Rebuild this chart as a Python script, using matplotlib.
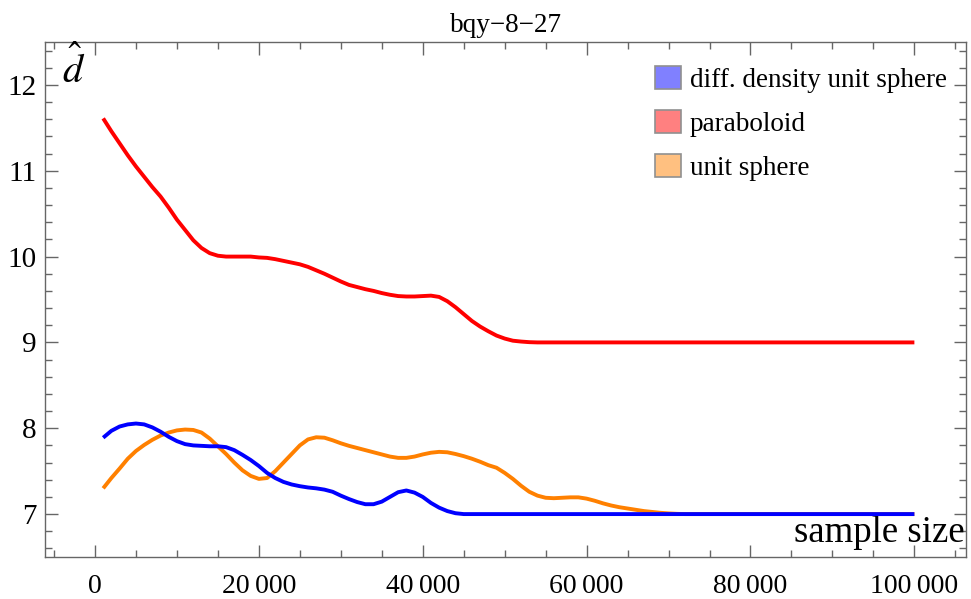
import matplotlib
matplotlib.use("Agg")
import matplotlib.pyplot as plt
from matplotlib.ticker import MultipleLocator, FuncFormatter
from matplotlib.patches import Patch

sample_size = [1000, 2000, 3000, 4000, 5000, 6000, 7000, 8000, 9000, 10000,
               11000, 12000, 13000, 14000, 15000, 16000, 17000, 18000, 19000, 20000,
               21000, 22000, 23000, 24000, 25000, 26000, 27000, 28000, 29000, 30000,
               31000, 32000, 33000, 34000, 35000, 36000, 37000, 38000, 39000, 40000,
               41000, 42000, 43000, 44000, 45000, 46000, 47000, 48000, 49000, 50000,
               51000, 52000, 53000, 54000, 55000, 56000, 57000, 58000, 59000, 60000,
               61000, 62000, 63000, 64000, 65000, 66000, 67000, 68000, 69000, 70000,
               71000, 72000, 75000, 80000, 85000, 90000, 95000, 100000]

paraboloid = [11.61, 11.46, 11.32, 11.18, 11.05, 10.93, 10.81, 10.70, 10.57, 10.43,
              10.31, 10.19, 10.10, 10.04, 10.01, 10.00, 10.00, 10.00, 10.00, 9.99,
              9.985, 9.97, 9.95, 9.93, 9.91, 9.88, 9.84, 9.80, 9.755, 9.71,
              9.67, 9.645, 9.62, 9.60, 9.575, 9.555, 9.54, 9.535, 9.535, 9.54,
              9.545, 9.53, 9.48, 9.41, 9.33, 9.25, 9.185, 9.13, 9.08, 9.045,
              9.02, 9.01, 9.003, 9.0, 9.0, 9.0, 9.0, 9.0, 9.0, 9.0,
              9.0, 9.0, 9.0, 9.0, 9.0, 9.0, 9.0, 9.0, 9.0, 9.0,
              9.0, 9.0, 9.0, 9.0, 9.0, 9.0, 9.0, 9.0]

diff_density = [7.89, 7.97, 8.02, 8.045, 8.055, 8.045, 8.01, 7.96, 7.90, 7.85,
                7.815, 7.80, 7.795, 7.79, 7.79, 7.78, 7.745, 7.69, 7.63, 7.56,
                7.48, 7.42, 7.375, 7.345, 7.325, 7.31, 7.30, 7.285, 7.26, 7.215,
                7.175, 7.14, 7.115, 7.115, 7.145, 7.20, 7.255, 7.275, 7.25, 7.20,
                7.13, 7.075, 7.035, 7.01, 7.0, 7.0, 7.0, 7.0, 7.0, 7.0,
                7.0, 7.0, 7.0, 7.0, 7.0, 7.0, 7.0, 7.0, 7.0, 7.0,
                7.0, 7.0, 7.0, 7.0, 7.0, 7.0, 7.0, 7.0, 7.0, 7.0,
                7.0, 7.0, 7.0, 7.0, 7.0, 7.0, 7.0, 7.0]

unit_sphere = [7.30, 7.42, 7.53, 7.645, 7.735, 7.805, 7.865, 7.915, 7.95, 7.975,
               7.985, 7.98, 7.95, 7.88, 7.79, 7.70, 7.60, 7.51, 7.445, 7.41,
               7.42, 7.50, 7.60, 7.70, 7.80, 7.87, 7.895, 7.89, 7.86, 7.825,
               7.795, 7.77, 7.745, 7.72, 7.695, 7.67, 7.655, 7.655, 7.67, 7.695,
               7.715, 7.725, 7.72, 7.70, 7.675, 7.645, 7.61, 7.57, 7.54, 7.48,
               7.41, 7.33, 7.26, 7.215, 7.19, 7.185, 7.19, 7.195, 7.195, 7.18,
               7.155, 7.125, 7.10, 7.08, 7.065, 7.05, 7.035, 7.025, 7.015, 7.008,
               7.003, 7.0, 7.0, 7.0, 7.0, 7.0, 7.0, 7.0]

legend_labels = ["diff. density unit sphere", "paraboloid", "unit sphere"]
line_colors = ["#0000FF", "#FF0000", "#FF8000"]
swatch_colors = ["#8080FF", "#FF8080", "#FFC080"]

plt.rcParams['font.family'] = ['Liberation Serif', 'DejaVu Serif']
plt.rcParams['mathtext.fontset'] = 'stix'

fig = plt.figure(figsize=(9.71, 5.99), dpi=100)
ax = fig.add_axes([45/971, 1 - 557/599, (966 - 45)/971, (557 - 42)/599])

kw = dict(lw=2.8, solid_joinstyle='round', solid_capstyle='butt')
ax.plot(sample_size, unit_sphere, color=line_colors[2], zorder=2, **kw)
ax.plot(sample_size, paraboloid, color=line_colors[1], zorder=3, **kw)
ax.plot(sample_size, diff_density, color=line_colors[0], zorder=4, **kw)

ax.set_xlim(-6100, 106300)
ax.set_ylim(6.5, 12.5)

ax.xaxis.set_major_locator(MultipleLocator(20000))
ax.xaxis.set_minor_locator(MultipleLocator(5000))
ax.yaxis.set_major_locator(MultipleLocator(1))
ax.yaxis.set_minor_locator(MultipleLocator(0.2))

def fmt(v, pos):
    s = f"{int(round(v)):,}"
    return s.replace(",", "\u2009")
ax.xaxis.set_major_formatter(FuncFormatter(fmt))

spine_col = "#666666"
for s in ax.spines.values():
    s.set_color(spine_col)
    s.set_linewidth(1.0)
ax.tick_params(which='both', direction='in', top=True, right=True, color=spine_col, width=1.0)
ax.tick_params(which='major', length=9)
ax.tick_params(which='minor', length=5)
ax.tick_params(axis='x', labelsize=20, pad=12)
ax.tick_params(axis='y', labelsize=21, pad=6)

ax.set_title("bqy\u22128\u221227", fontsize=19.5, pad=7)

ax.text(0.018, 0.99, r"$\hat{d}$", transform=ax.transAxes, fontsize=29,
        ha='left', va='top')
ax.text(0.999, 0.03, "sample size", transform=ax.transAxes, fontsize=26.5,
        ha='right', va='baseline')

handles = [Patch(facecolor=swatch_colors[i], edgecolor="#909090", linewidth=1.2)
           for i in range(3)]
ax.legend(handles, legend_labels, loc='upper right', frameon=False, fontsize=19.5,
          handlelength=0.95, handleheight=0.95, handletextpad=0.35, labelspacing=0.62,
          bbox_to_anchor=(1.0, 0.99), borderaxespad=0.3)

fig.savefig("out.png", dpi=100)
